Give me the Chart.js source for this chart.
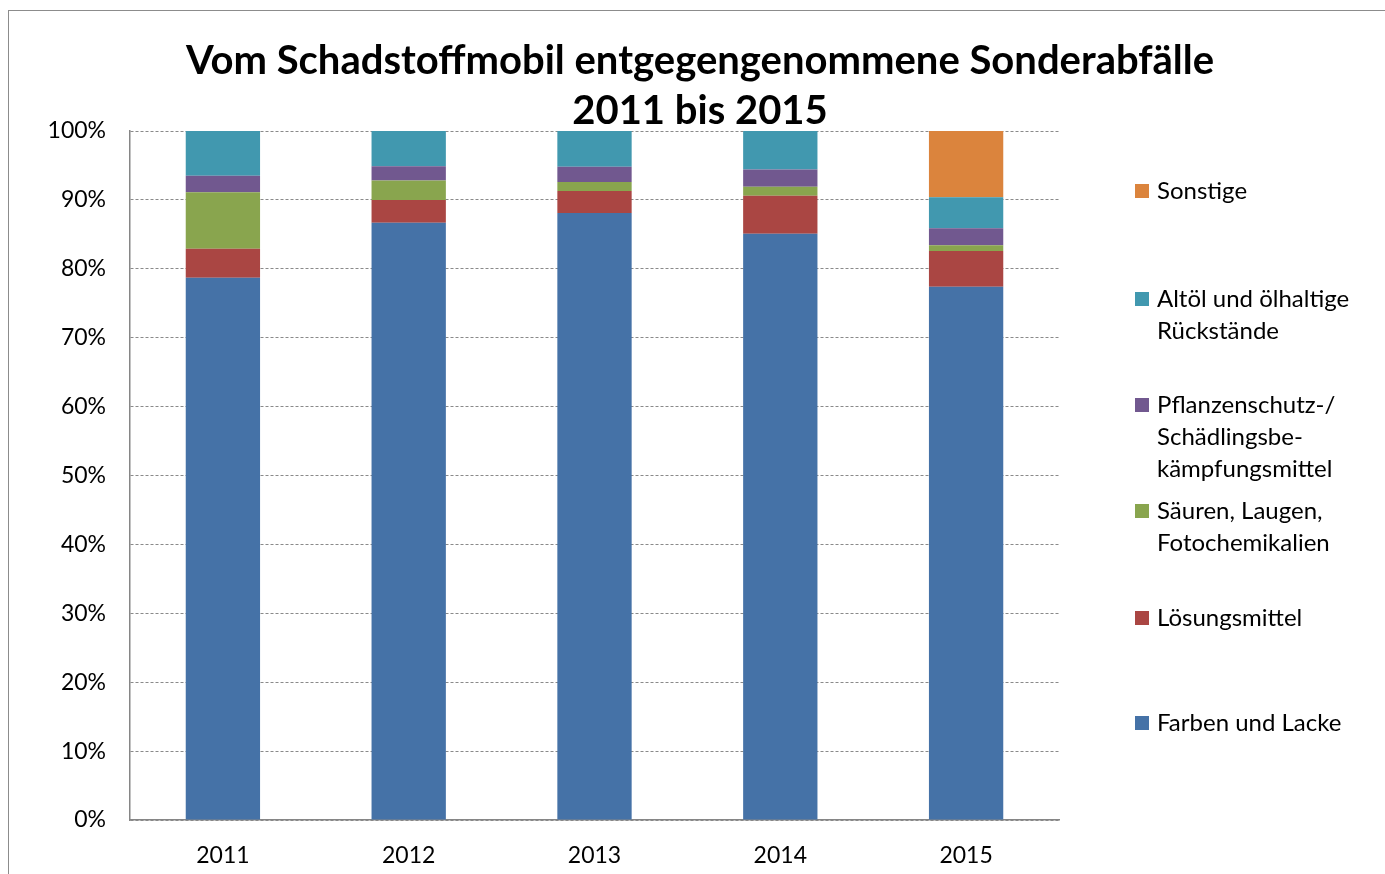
<!DOCTYPE html>
<html lang="de">
<head>
<meta charset="utf-8">
<title>Vom Schadstoffmobil entgegengenommene Sonderabfälle</title>
<script src="https://cdn.jsdelivr.net/npm/chart.js@4/dist/chart.umd.min.js"></script>
<style>
  html, body { margin: 0; padding: 0; background: #fff; }
  body { width: 1385px; height: 874px; position: relative; overflow: hidden; font-family: Lato, "Open Sans", sans-serif; color: #000; }
  #frame { position: absolute; left: 8px; top: 10px; width: 1400px; height: 900px; border: 1px solid #8c8c8c; box-sizing: border-box; }
  #wrap { position: absolute; left: 0; top: 0; width: 1385px; height: 874px; }
  #title { position: absolute; left: 0; top: 34px; width: 1400px; text-align: center; font-weight: bold; font-size: 40px; line-height: 50px; }
  #legend { position: absolute; left: 1135px; top: 0; }
  .item { position: absolute; left: 0; width: 250px; font-size: 24px; line-height: 32px; white-space: nowrap; }
  .item .sw { position: absolute; left: 0; width: 14px; height: 14px; top: 10px; }
  .item .txt { position: absolute; left: 22px; top: 0; }
</style>
</head>
<body>
<div id="frame"></div>
<div id="wrap"><canvas id="chart" width="1385" height="874"></canvas></div>
<div id="title">Vom Schadstoffmobil entgegengenommene Sonderabfälle<br>2011 bis 2015</div>
<div id="legend"></div>
<script>
  "use strict";

  // --- Daten (Anteile in %, von unten nach oben gestapelt) -------------------
  var YEARS = ["2011", "2012", "2013", "2014", "2015"];
  var FARBEN     = [78.7, 86.7, 88.1, 85.1, 77.4];
  var LOESUNG    = [4.2, 3.3, 3.2, 5.5, 5.2];
  var SAEUREN    = [8.2, 2.8, 1.3, 1.3, 0.8];
  var PFLANZEN   = [2.4, 2.1, 2.2, 2.5, 2.5];
  var ALTOEL     = [6.5, 5.1, 5.2, 5.6, 4.5];
  var SONSTIGE   = [0, 0, 0, 0, 9.6];

  var LABELS = [
    ["Farben und Lacke"],
    ["Lösungsmittel"],
    ["Säuren, Laugen,", "Fotochemikalien"],
    ["Pflanzenschutz-/", "Schädlingsbe-", "kämpfungsmittel"],
    ["Altöl und ölhaltige", "Rückstände"],
    ["Sonstige"]
  ];
  var COLORS = ["#4572A7", "#AA4643", "#89A54E", "#71588F", "#4198AF", "#DB843D"];
  var SERIES = [FARBEN, LOESUNG, SAEUREN, PFLANZEN, ALTOEL, SONSTIGE];
  // Mittelpunkt (y) der ersten Textzeile jedes Legendeneintrags
  var LEGEND_Y = [722, 617, 510, 404, 298, 190];

  var datasets = SERIES.map(function (data, i) {
    return {
      label: LABELS[i].join(" "),
      data: data,
      backgroundColor: COLORS[i],
      borderWidth: 0,
      barPercentage: 0.4,
      categoryPercentage: 1.0
    };
  });

  // --- Legende (HTML, mehrzeilig wie im Original) ---------------------------
  var legend = document.getElementById("legend");
  LABELS.forEach(function (lines, i) {
    var el = document.createElement("div");
    el.className = "item";
    el.style.top = (LEGEND_Y[i] - 16) + "px";
    el.innerHTML = '<span class="sw" style="background:' + COLORS[i] + '"></span><span class="txt">' + lines.join("<br>") + "</span>";
    legend.appendChild(el);
  });

  // --- Diagramm -------------------------------------------------------------
  var FONT = { family: "Lato, 'Open Sans', sans-serif", size: 23 };

  new Chart(document.getElementById("chart"), {
    type: "bar",
    data: { labels: YEARS, datasets: datasets },
    options: {
      responsive: false,
      animation: false,
      layout: { padding: { left: 0, top: 131, right: 326, bottom: 0 } },
      plugins: { legend: { display: false }, title: { display: false }, tooltip: { enabled: false } },
      scales: {
        x: {
          stacked: true,
          grid: { display: false, drawTicks: false },
          border: { display: true, color: "#868686", width: 1.5 },
          ticks: { color: "#000", font: FONT, padding: 22 },
          afterFit: function (s) { s.height = 54; }
        },
        y: {
          stacked: true,
          min: 0, max: 100,
          grid: { color: "#8a8a8a", lineWidth: 1, drawTicks: false },
          border: { display: true, color: "#868686", width: 1.5, dash: [3, 2] },
          ticks: {
            stepSize: 10, color: "#000", font: FONT, padding: 24,
            callback: function (v) { return v + "%"; }
          },
          afterFit: function (s) { s.width = 130; }
        }
      }
    }
  });
</script>
</body>
</html>
